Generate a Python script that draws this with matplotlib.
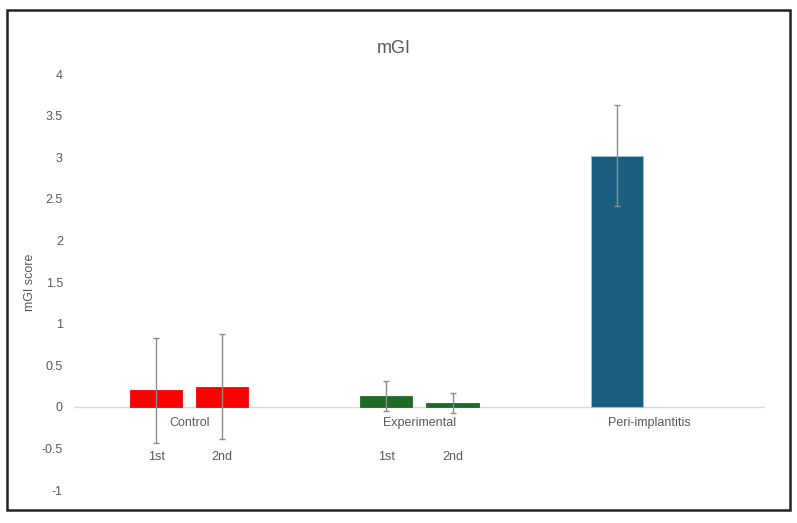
import matplotlib.pyplot as plt
import numpy as np

plt.rcParams['font.family'] = ['Liberation Sans Narrow', 'Liberation Sans', 'DejaVu Sans']

groups = ['Control', 'Experimental', 'Peri-implantitis']
sessions = ['1st', '2nd']
# mean mGI score per group and session (Peri-implantitis has only one value)
means = [[0.20, 0.24], [0.13, 0.05], [3.02, np.nan]]
errors = [[0.63, 0.63], [0.18, 0.12], [0.61, np.nan]]
colours = ['#ff0000', '#1e6b26', '#1a5e80']

fig = plt.figure(figsize=(7.97, 5.23), dpi=100)
ax = fig.add_axes([0.0928, 0.063, 0.867, 0.7955])

offset = 0.1435  # half spacing between the two session bars
width = 0.226
txt = '#595959'

for g in range(len(groups)):
    for s in range(len(sessions)):
        if np.isnan(means[g][s]):
            continue
        x = g + (s * 2 - 1) * offset
        ax.bar(x, means[g][s], width=width, color=colours[g],
               edgecolor='#9ec3d6' if g == 2 else colours[g], linewidth=0.6, zorder=2)
        ax.errorbar(x, means[g][s], yerr=errors[g][s], fmt='none', ecolor='#8c8c8c',
                    elinewidth=1.0, capsize=2.5, capthick=1.0, zorder=3)
        if g < 2:
            ax.text(x, -0.6, sessions[s], ha='center', va='center', fontsize=9, color=txt)
    ax.text(g, -0.19, groups[g], ha='center', va='center', fontsize=9, color=txt)

ax.axhline(0, color='#d9d9d9', linewidth=1, zorder=1)
ax.set_xlim(-0.5, 2.5)
ax.set_ylim(-1, 4)
ax.set_yticks(np.arange(-1, 4.01, 0.5))
ax.set_yticklabels([f'{v:g}' for v in np.arange(-1, 4.01, 0.5)])
ax.set_xticks([])
ax.tick_params(axis='y', length=0, labelsize=9, labelcolor=txt, pad=8)
for sp in ax.spines.values():
    sp.set_visible(False)
ax.set_ylabel('mGI score', fontsize=9, color=txt, labelpad=4)

fig.text(0.494, 0.908, 'mGI', ha='center', va='center', fontsize=13, color=txt)

# outer frame
fig.patches.append(plt.Rectangle((0.009, 0.025), 0.982, 0.955, transform=fig.transFigure,
                                 fill=False, edgecolor='#222222', linewidth=1.8))

plt.savefig('out.png', dpi=100)
